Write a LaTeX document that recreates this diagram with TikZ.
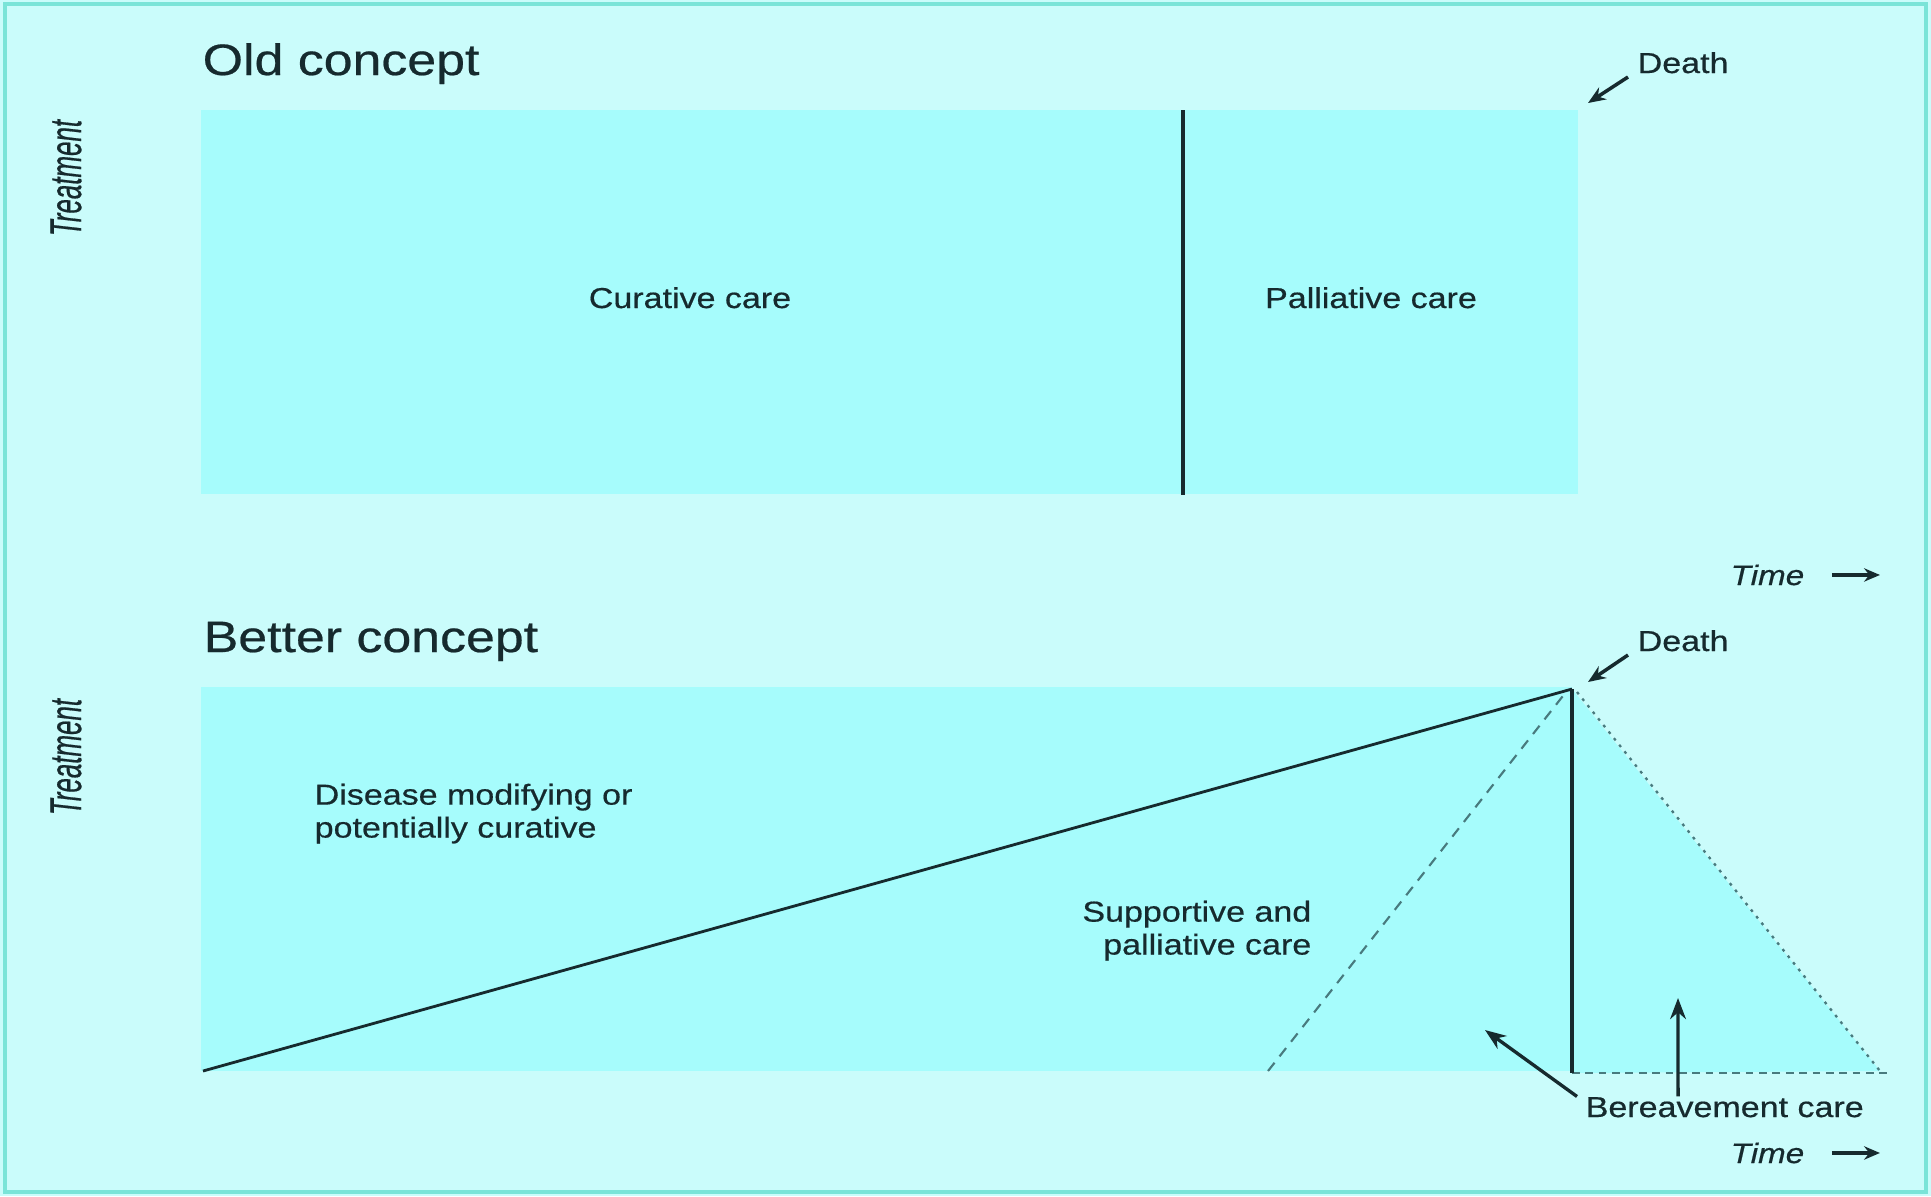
\documentclass[tikz,border=0pt]{standalone}
\usepackage{fontspec}
\setmainfont[FakeStretch=1.18, FakeBold=0.5]{Liberation Sans}
\newfontfamily\narrowfont[FakeStretch=0.58, FakeBold=0.4]{Liberation Sans}
\usepackage{tikz}
\usetikzlibrary{arrows.meta}

\definecolor{bgcyan}{RGB}{202,252,251}
\definecolor{boxcyan}{RGB}{166,252,252}
\definecolor{framecyan}{RGB}{122,228,216}
\definecolor{inkdark}{RGB}{22,42,46}
\definecolor{inkteal}{RGB}{72,122,126}

\tikzset{
  headtext/.style={anchor=base west, inner sep=0pt, text=inkdark,
    font=\fontsize{12.5}{14}\selectfont},
  caretext/.style={inner sep=0pt, text=inkdark,
    font=\fontsize{8.2}{9.36}\selectfont},
  axistext/.style={inner sep=0pt, rotate=90, text=inkdark,
    font=\narrowfont\itshape\fontsize{12.7}{14}\selectfont},
  timetext/.style={anchor=base west, inner sep=0pt, text=inkdark,
    font=\itshape\fontsize{8}{9}\selectfont},
  pointer/.style={draw=inkdark, line width=1pt,
    -{Stealth[length=5pt, width=4pt]}},
  bigpointer/.style={draw=inkdark, line width=0.95pt,
    -{Stealth[length=6pt, width=4.5pt]}},
  timearrow/.style={draw=inkdark, line width=1pt,
    -{Stealth[length=4.5pt, width=3.8pt]}},
  divider/.style={draw=inkdark, line width=0.9pt},
  trendline/.style={draw=inkdark, line width=0.8pt},
  deathline/.style={draw=inkdark, line width=1.35pt},
  dashline/.style={draw=inkteal, line width=0.6pt, dash pattern=on 3pt off 2.3pt},
  dotline/.style={draw=inkteal, line width=0.65pt, dash pattern=on 0.8pt off 1.6pt},
  floorline/.style={draw=inkteal, line width=0.55pt, dash pattern=on 2.2pt off 1.6pt},
}

\begin{document}
\begin{tikzpicture}[x=0.01cm, y=-0.01cm]
\useasboundingbox (0,0) rectangle (1931,1196);
\fill[bgcyan] (0,0) rectangle (1931,1196);
\draw[framecyan, line width=1.4pt] (5,4) rectangle (1926,1192);
%
% old concept
\node[headtext] (oldhead) at (202,75) {Old concept};
\node[axistext] (oldaxis) at (66,178) {Treatment};
\fill[boxcyan] (201,110) rectangle (1578,494);
\draw[divider] (1183,110) -- (1183,495);
\node[caretext, anchor=base] (curative) at (690,308) {Curative care};
\node[caretext, anchor=base] (palliative) at (1371,308) {Palliative care};
\node[caretext, anchor=base west] (oldend) at (1637,73) {Death};
\coordinate (oldtip) at (1588,103);
\draw[pointer] ([xshift=-0.09cm, yshift=-0.03cm]oldend.south west) -- (oldtip);
\node[timetext] (oldtime) at (1730,585) {Time};
\draw[timearrow] ([xshift=0.27cm]oldtime.east) -- ([xshift=0.75cm]oldtime.east);
%
% better concept
\node[headtext] (newhead) at (203,652) {Better concept};
\node[axistext] (newaxis) at (66,757) {Treatment};
\coordinate (start) at (203,1071);
\coordinate (peak) at (1572,689);
\coordinate (foot) at (1572,1073);
\coordinate (tail) at (1880,1071);
\fill[boxcyan] (201,687) rectangle (1572,1071);
\fill[boxcyan] (peak) -- (tail) -- (foot) -- cycle;
\draw[trendline] (start) -- (peak);
\draw[dashline] (1268,1071) -- (1566,692);
\draw[dotline] (1577,692) -- (tail);
\draw[floorline] (foot) -- (1890,1073);
\draw[deathline] (peak) -- (foot);
%
\node[caretext, align=left, anchor=north west] (modifying) at (314,783)
  {Disease modifying or\\potentially curative};
\node[caretext, align=right, anchor=north east] (supportive) at (1312,900)
  {Supportive and\\palliative care};
\node[caretext, anchor=base west] (newend) at (1637,651) {Death};
\coordinate (newtip) at (1588,682);
\draw[pointer] ([xshift=-0.09cm, yshift=-0.03cm]newend.south west) -- (newtip);
%
\node[caretext, anchor=base west] (bereave) at (1585,1117) {Bereavement care};
\coordinate (leftup) at (1485,1030);
\coordinate (straightup) at (1678,998);
\draw[bigpointer] ([xshift=-0.08cm]bereave.north west) -- (leftup);
\draw[bigpointer] ([xshift=0.93cm]bereave.north west) -- (straightup);
\node[timetext] (newtime) at (1730,1163) {Time};
\draw[timearrow] ([xshift=0.27cm]newtime.east) -- ([xshift=0.75cm]newtime.east);
%
\end{tikzpicture}
\end{document}
